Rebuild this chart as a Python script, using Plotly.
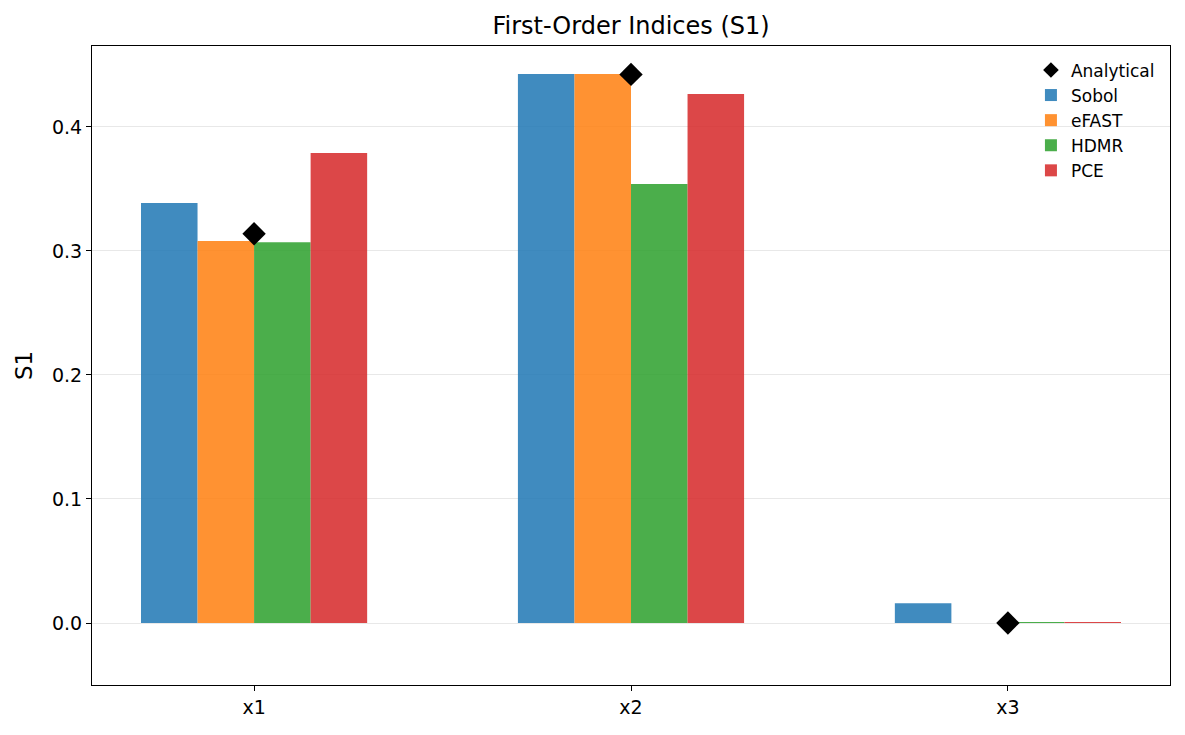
import plotly.graph_objects as go

# datos
variables = ["x1", "x2", "x3"]
sobol = [0.3387, 0.4427, 0.016]
efast = [0.308, 0.4427, 0.0]
hdmr = [0.307, 0.354, 0.0006]
pce = [0.379, 0.4266, 0.0006]
analytical = [0.3139, 0.4424, 0.0]

methods = ["Sobol", "eFAST", "HDMR", "PCE"]
method_values = [sobol, efast, hdmr, pce]
colors = ["#1f77b4", "#ff7f0e", "#2ca02c", "#d62728"]

fig = go.Figure()
for name, vals, color in zip(methods, method_values, colors):
    fig.add_trace(go.Bar(x=variables, y=vals, name=name, marker_color=color,
                         opacity=0.85, marker_line_width=0, legendrank=2))

fig.add_trace(go.Scatter(x=variables, y=analytical, mode="markers", name="Analytical",
                         marker=dict(symbol="diamond", size=18, color="black"),
                         legendrank=1))

# la pagina tiene margen de 8px, por eso el tamaño es algo menor
fig.update_layout(
    width=1169, height=719,
    title=dict(text="First-Order Indices (S1)", x=0.533, xanchor="center",
               y=0.975, yanchor="middle",
               font=dict(size=24, color="black")),
    font=dict(family="DejaVu Sans", size=19, color="black"),
    barmode="group", bargap=0.4, bargroupgap=0,
    plot_bgcolor="white", paper_bgcolor="white",
    margin=dict(l=84, r=7, t=38, b=42),
    legend=dict(x=0.871, y=0.99, xanchor="left", yanchor="top",
                bgcolor="rgba(255,255,255,0)", font=dict(size=17),
                itemsizing="constant", tracegroupgap=0),
    showlegend=True,
)
fig.update_xaxes(range=[-0.43, 2.43], showline=True, linecolor="black", mirror=True,
                 ticks="outside", ticklen=5, tickcolor="black", showgrid=False)
fig.update_yaxes(title=dict(text="S1", standoff=12), range=[-0.05, 0.4653],
                 tickvals=[0, 0.1, 0.2, 0.3, 0.4], tickformat=".1f",
                 showline=True, linecolor="black", mirror=True,
                 ticks="outside", ticklen=5, tickcolor="black",
                 showgrid=True, gridcolor="rgba(0,0,0,0.09)", zeroline=False)

fig.write_html("out.html")
